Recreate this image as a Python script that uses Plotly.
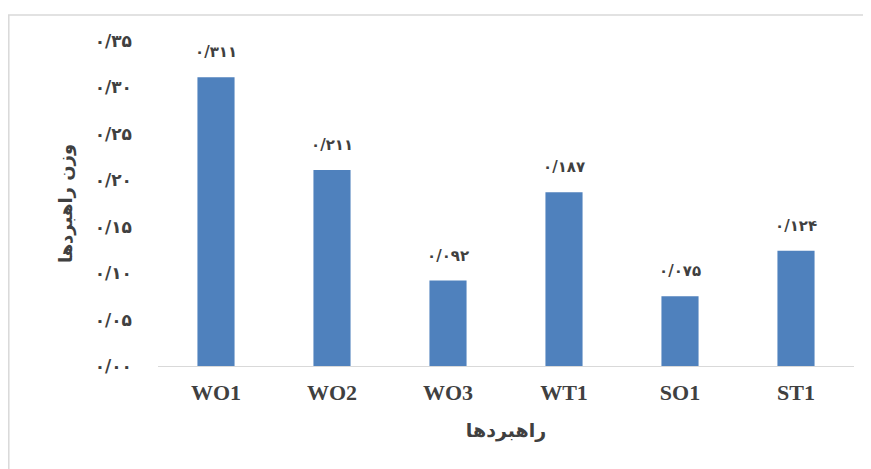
import plotly.graph_objects as go

categories = ["WO1", "WO2", "WO3", "WT1", "SO1", "ST1"]
values = [0.311, 0.211, 0.092, 0.187, 0.075, 0.124]
value_labels = ["۰/۳۱۱", "۰/۲۱۱", "۰/۰۹۲", "۰/۱۸۷", "۰/۰۷۵", "۰/۱۲۴"]
y_tickvals = [0.0, 0.05, 0.10, 0.15, 0.20, 0.25, 0.30, 0.35]
y_ticktext = ["۰/۰۰", "۰/۰۵", "۰/۱۰", "۰/۱۵", "۰/۲۰", "۰/۲۵", "۰/۳۰", "۰/۳۵"]
x_title = "راهبردها"
y_title = "وزن راهبردها"

# page body adds an 8px offset, so the figure is 8px smaller on each side
W, H = 863, 461
L, R, T, B = 150, 17, 33, 103
pw, ph = W - L - R, H - T - B

def px(x):
    return (x - L) / pw

def py(y):
    return (H - B - y) / ph

fig = go.Figure(go.Bar(
    x=categories, y=values, marker=dict(color="#4f81bd", line=dict(width=0)),
    width=0.32,
))

for c, v, t in zip(categories, values, value_labels):
    fig.add_annotation(x=c, y=v, text="<b>" + t + "</b>", showarrow=False,
                       yshift=25, font=dict(family="DejaVu Sans", size=15, color="#404040"))

fig.add_shape(type="line", xref="paper", yref="paper",
              x0=px(0), x1=px(W + 10), y0=py(7), y1=py(7),
              line=dict(color="#d9d9d9", width=1.5))
fig.add_shape(type="line", xref="paper", yref="paper",
              x0=px(0.8), x1=px(0.8), y0=py(7), y1=py(H + 10),
              line=dict(color="#d9d9d9", width=1.5))

fig.update_layout(
    width=W, height=H,
    margin=dict(l=L, r=R, t=T, b=B),
    paper_bgcolor="white", plot_bgcolor="white",
    showlegend=False,
    xaxis=dict(
        showgrid=False, showline=True, linecolor="#d9d9d9", linewidth=1,
        ticks="", tickfont=dict(family="Liberation Serif", size=22, color="#404040"),
        tickprefix="<b>", ticksuffix="</b>",
        ticklabelstandoff=7,
        title=dict(text="<b>" + x_title + "</b>", standoff=19,
                   font=dict(family="DejaVu Sans", size=19, color="#404040")),
    ),
    yaxis=dict(
        range=[0, 0.35], showgrid=False, showline=False, zeroline=False,
        tickvals=y_tickvals, ticktext=["<b>" + t + "</b>" for t in y_ticktext],
        tickfont=dict(family="DejaVu Sans", size=17, color="#404040"),
        ticklabelstandoff=25,
        title=dict(text="<b>" + y_title + "</b>", standoff=17,
                   font=dict(family="DejaVu Sans", size=18, color="#404040")),
    ),
)

fig.write_html("out.html")
